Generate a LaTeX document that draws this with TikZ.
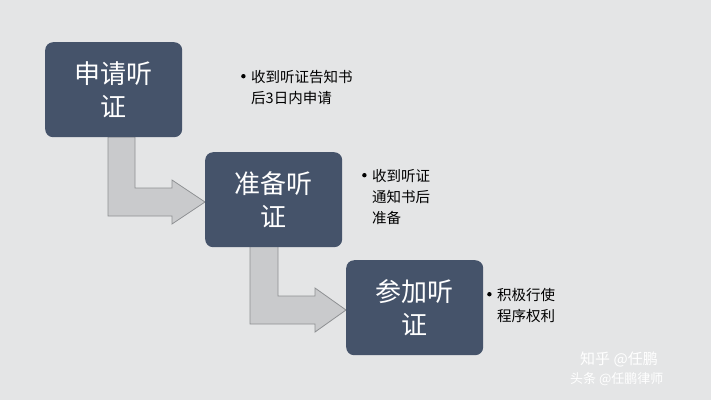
\documentclass[tikz,border=0pt]{standalone}
\usepackage{fontspec}
\newfontfamily\cjk{Noto Sans CJK SC}
\newcommand{\bul}{\makebox[10pt][l]{\raisebox{4pt}{\tikz\fill (0,0) circle (2.2pt);}}}
\begin{document}
\begin{tikzpicture}[x=1pt,y=-1pt,
  stepbox/.style={draw=none,fill=boxc,rounded corners=8pt,minimum width=137pt,minimum height=95pt,text=white,font=\cjk\fontsize{26}{33}\selectfont,align=center,anchor=north west,inner sep=0pt},
  note/.style={font=\cjk\fontsize{14.5}{21}\selectfont,align=left,anchor=north west,inner sep=0pt,text=black},
  barrow/.style={fill=arrc,draw=arrd,line width=0.8pt}]
\definecolor{bg}{HTML}{E4E5E6}
\definecolor{boxc}{HTML}{45536A}
\definecolor{arrc}{HTML}{C9CACC}
\definecolor{arrd}{HTML}{8E9093}
\fill[bg] (0,0) rectangle (711,400);
\useasboundingbox (0,0) rectangle (711,400);
\draw[barrow] (108,137) -- (135,137) -- (135,188) -- (172,188) -- (172,180) -- (205,202) -- (172,224) -- (172,216) -- (108,216) -- cycle;
\draw[barrow] (250,246) -- (278,246) -- (278,296) -- (315,296) -- (315,288) -- (346,310) -- (315,332) -- (315,324) -- (250,324) -- cycle;
\node[stepbox] (s1) at (45,42) {申请听\\证};
\node[stepbox] (s2) at (205,152) {准备听\\证};
\node[stepbox] (s3) at (346,260) {参加听\\证};
\node[note] (n1) at (241,70) {\bul 收到听证告知书\\\hspace{10pt}后3日内申请};
\node[note] (n2) at (362,169) {\bul 收到听证\\\hspace{10pt}通知书后\\\hspace{10pt}准备};
\node[note] (n3) at (487,288) {\bul 积极行使\\\hspace{10pt}程序权利};
\node[font=\cjk\fontsize{15}{18}\selectfont,text=white,anchor=north west,inner sep=0pt] (w1) at (580,352) {知乎 @任鹏};
\node[font=\cjk\fontsize{13}{16}\selectfont,text=white,anchor=north west,inner sep=0pt] (w2) at (570,372) {头条 @任鹏律师};
\end{tikzpicture}
\end{document}
